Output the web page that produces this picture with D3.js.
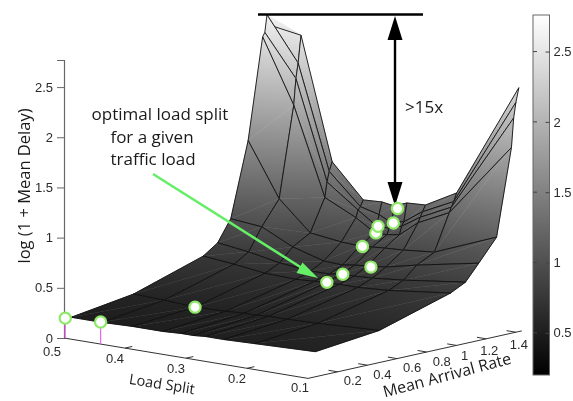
<!DOCTYPE html>
<html>
<head>
<meta charset="utf-8">
<script src="https://d3js.org/d3.v7.min.js"></script>
<style>
html, body { margin: 0; padding: 0; background: #fff; }
svg { display: block; filter: blur(0.4px); }
.tick_label { font-family: "Liberation Sans", sans-serif; font-size: 13px; fill: #2a2a2a; }
.note { font-family: "Open Sans", sans-serif; fill: #1a1a1a; }
</style>
</head>
<body>
<script>
// grid of the surface
const splits = [0.5, 0.45, 0.4, 0.35, 0.32, 0.3, 0.28, 0.25, 0.2, 0.1];
const rates = [0.05, 0.48, 0.96, 1.06, 1.15, 1.27, 1.37, 1.385, 1.4, 1.42];
// log(1 + delay), one row per rate, one column per split
const delay_005 = [0.19, 0.19, 0.2, 0.2, 0.21, 0.21, 0.22, 0.22, 0.23, 0.25];
const delay_048 = [0.28, 0.27, 0.25, 0.26, 0.27, 0.27, 0.28, 0.28, 0.29, 0.32];
const delay_096 = [0.5, 0.47, 0.43, 0.42, 0.43, 0.44, 0.44, 0.44, 0.46, 0.535];
const delay_106 = [0.6, 0.56, 0.5, 0.47, 0.47, 0.49, 0.49, 0.5, 0.53, 0.61];
const delay_115 = [0.81, 0.78, 0.63, 0.54, 0.53, 0.55, 0.56, 0.58, 0.65, 0.77];
const delay_127 = [1.55, 1.02, 0.73, 0.69, 0.68, 0.69, 0.7, 0.71, 0.74, 0.99];
const delay_137 = [2.55, 1.92, 1.05, 0.9, 0.78, 0.78, 0.8, 0.95, 1.1, 1.85];
const delay_1385 = [2.59, 2.18, 1.2, 0.97, 0.84, 0.84, 0.88, 1.0, 1.15, 2.14];
const delay_140 = [2.76, 2.33, 1.3, 1.0, 0.95, 0.89, 0.92, 1.05, 1.2, 2.29];
const delay_142 = [2.65, 2.6, 1.39, 1.06, 1.07, 1.05, 1.1, 1.11, 1.28, 2.43];
const delays = [delay_005, delay_048, delay_096, delay_106, delay_115, delay_127, delay_137, delay_1385, delay_140, delay_142];

// optimal load split per traffic load
const opt_split = [0.498, 0.44, 0.4, 0.3, 0.298, 0.274, 0.316, 0.318, 0.318, 0.297, 0.295];
const opt_rate = [0, 0, 0.48, 0.96, 1.06, 1.15, 1.27, 1.37, 1.385, 1.4, 1.42];
const opt_delay = [0.2, 0.22, 0.25, 0.44, 0.49, 0.556, 0.68, 0.78, 0.84, 0.89, 1.03];

const delay_ticks = [0, 0.5, 1, 1.5, 2, 2.5];
const split_ticks = [0.5, 0.4, 0.3, 0.2, 0.1];
const rate_ticks = [0.2, 0.4, 0.6, 0.8, 1, 1.2, 1.4];
const colorbar_ticks = [0.5, 1, 1.5, 2, 2.5];

const width = 573, height = 401;
const svg = d3.select('body').append('svg').attr('width', width).attr('height', height);
const defs = svg.append('defs');

// oblique projection of (split, rate, delay) onto the page
const split_x = d3.scaleLinear([0.5, 0.1], [64, 308]);
const split_y = d3.scaleLinear([0.5, 0.1], [338, 378.4]);
const rate_dx = d3.scaleLinear([0.5, 0.1], [145, 148.5]);
const rate_dy = d3.scaleLinear([0, 1], [0, -33]);
const delay_y = d3.scaleLinear([0, 2.77], [338, 60]);
const project = (s, r, z) => [
    split_x(s) + r * rate_dx(s),
    split_y(s) + rate_dy(r) + delay_y(z) - delay_y(0)
];

const z_lo = 0.2, z_hi = 2.77;
const surface_color = d3.scaleLinear([z_lo, z_hi], ['#1e1e1e', '#f2f2f2']);

let grad_id = 0;
function triangle_fill(a, b, c) {
    // plane z = gx * x + gy * y + k, gradient runs along (gx, gy)
    const [x1, y1, z1] = a, [x2, y2, z2] = b, [x3, y3, z3] = c;
    const det = (x2 - x1) * (y3 - y1) - (x3 - x1) * (y2 - y1);
    if (Math.abs(det) < 1e-6) return surface_color((z1 + z2 + z3) / 3);
    const gx = ((z2 - z1) * (y3 - y1) - (z3 - z1) * (y2 - y1)) / det;
    const gy = ((x2 - x1) * (z3 - z1) - (x3 - x1) * (z2 - z1)) / det;
    const g2 = gx * gx + gy * gy;
    if (g2 < 1e-9) return surface_color((z1 + z2 + z3) / 3);
    const id = 'tri' + (grad_id++);
    const grad = defs.append('linearGradient')
        .attr('id', id)
        .attr('gradientUnits', 'userSpaceOnUse')
        .attr('x1', x1 + (z_lo - z1) * gx / g2)
        .attr('y1', y1 + (z_lo - z1) * gy / g2)
        .attr('x2', x1 + (z_hi - z1) * gx / g2)
        .attr('y2', y1 + (z_hi - z1) * gy / g2);
    grad.append('stop').attr('offset', 0).attr('stop-color', surface_color(z_lo));
    grad.append('stop').attr('offset', 1).attr('stop-color', surface_color(z_hi));
    return 'url(#' + id + ')';
}

// surface, far cells first
const surface = svg.append('g').attr('class', 'surface');
const node = (i, j) => {
    const p = project(splits[j], rates[i], delays[i][j]);
    return [p[0], p[1], delays[i][j]];
};
const line_path = d3.line();
for (let i = rates.length - 2; i >= 0; i--) {
    for (let j = 0; j < splits.length - 1; j++) {
        const a = node(i, j), b = node(i, j + 1), c = node(i + 1, j + 1), d = node(i + 1, j);
        [[a, b, c], [a, c, d]].forEach(tri => {
            const fill = triangle_fill(tri[0], tri[1], tri[2]);
            surface.append('path')
                .attr('d', line_path(tri.map(p => [p[0], p[1]])) + 'Z')
                .attr('fill', fill)
                .attr('stroke', fill)
                .attr('stroke-width', 0.5);
        });
        surface.append('path')
            .attr('d', line_path([a, b, c, d].map(p => [p[0], p[1]])) + 'Z')
            .attr('fill', 'none')
            .attr('stroke', '#111')
            .attr('stroke-width', 0.9)
            .attr('stroke-linejoin', 'round');
    }
}

// delay axis
const axis_color = '#666';
const z_axis = svg.append('g')
    .attr('transform', 'translate(64,0)')
    .call(d3.axisLeft(delay_y).tickValues(delay_ticks).tickFormat(String).tickSize(7).tickPadding(4));
z_axis.select('.domain').attr('stroke', axis_color).attr('stroke-width', 1.2);
z_axis.selectAll('.tick line').attr('stroke', axis_color);
z_axis.selectAll('.tick text').attr('class', 'tick_label').style('font-size', '13px').attr('font-family', null);

// floor axes
const floor = svg.append('g');
floor.append('path')
    .attr('d', line_path([project(0.5, 0, 0), project(0.1, 0, 0), project(0.1, 1.44, 0)]))
    .attr('fill', 'none').attr('stroke', '#333').attr('stroke-width', 1);

split_ticks.forEach(s => {
    const p = project(s, 0, 0);
    if (s !== 0.5 && s !== 0.1) {
        floor.append('path')
            .attr('d', line_path([p, project(s, 0.05, 0)]))
            .attr('stroke', '#333').attr('fill', 'none');
    }
    const off = s === 0.5 ? [-12, 13] : s === 0.1 ? [-8, 9] : [-10, 10];
    floor.append('text').attr('class', 'tick_label')
        .attr('x', p[0] + off[0]).attr('y', p[1] + off[1])
        .attr('text-anchor', 'middle').attr('dy', '0.35em')
        .text(s);
});
rate_ticks.forEach(r => {
    const p = project(0.1, r, 0);
    floor.append('path')
        .attr('d', line_path([p, project(0.115, r, 0)]))
        .attr('stroke', '#333').attr('fill', 'none');
    const off = r < 1 ? [15, 9] : r === 1 ? [8, 10] : [3, 12];
    floor.append('text').attr('class', 'tick_label')
        .attr('x', p[0] + off[0]).attr('y', p[1] + off[1])
        .attr('text-anchor', 'middle').attr('dy', '0.35em')
        .text(r);
});

// axis titles
svg.append('text').attr('class', 'note')
    .attr('transform', 'translate(24,186) rotate(-90)')
    .attr('text-anchor', 'middle').attr('dy', '0.35em')
    .style('font-size', '16.5px').text('log (1 + Mean Delay)');
svg.append('text').attr('class', 'note')
    .attr('transform', 'translate(162,384) rotate(9)')
    .attr('text-anchor', 'middle').attr('dy', '0.35em')
    .style('font-size', '14.5px').text('Load Split');
svg.append('text').attr('class', 'note')
    .attr('transform', 'translate(447,375) rotate(-15)')
    .attr('text-anchor', 'middle').attr('dy', '0.35em')
    .style('font-size', '16px').text('Mean Arrival Rate');

// annotation text
[['optimal load split', 160, 120], ['for a given', 152, 143], ['traffic load', 153, 165]].forEach(t => {
    svg.append('text').attr('class', 'note')
        .attr('x', t[1]).attr('y', t[2]).attr('text-anchor', 'middle')
        .style('font-size', '17px').text(t[0]);
});
svg.append('text').attr('class', 'note')
    .attr('x', 405).attr('y', 113).style('font-size', '17px').text('>15x');

// black span arrow
svg.append('line').attr('x1', 258).attr('x2', 423).attr('y1', 14.5).attr('y2', 14.5)
    .attr('stroke', '#000').attr('stroke-width', 2.6);
svg.append('line').attr('x1', 395).attr('x2', 395).attr('y1', 30).attr('y2', 190)
    .attr('stroke', '#000').attr('stroke-width', 2.4);
svg.append('path').attr('d', 'M395,16L402.5,40L387.5,40Z').attr('fill', '#000');
svg.append('path').attr('d', 'M395,206L402.5,182L387.5,182Z').attr('fill', '#000');

// green arrow
const green = '#66ee66';
svg.append('line').attr('x1', 153).attr('y1', 174).attr('x2', 305).attr('y2', 270)
    .attr('stroke', green).attr('stroke-width', 2.6);
svg.append('path').attr('d', 'M318,278L296.5,273L302.5,262.5Z').attr('fill', green);

// optimal points with stems down to the floor
const opt_points = opt_split.map((s, k) => ({ s: s, r: opt_rate[k], z: opt_delay[k] }));
svg.append('g').selectAll('line').data(opt_points.slice(0, 2)).join('line')
    .attr('x1', d => project(d.s, d.r, d.z)[0])
    .attr('y1', d => project(d.s, d.r, d.z)[1])
    .attr('x2', d => project(d.s, d.r, 0)[0])
    .attr('y2', d => project(d.s, d.r, 0)[1])
    .attr('stroke', '#ee66ee').attr('stroke-width', 1.2);
svg.append('g').selectAll('circle').data(opt_points).join('circle')
    .attr('cx', d => project(d.s, d.r, d.z)[0])
    .attr('cy', d => project(d.s, d.r, d.z)[1])
    .attr('r', 5.6)
    .attr('fill', '#fff')
    .attr('stroke', '#8fe868')
    .attr('stroke-width', 2.2);

// colorbar
const bar_x = 533, bar_w = 16.5;
const bar_scale = d3.scaleLinear([0.2, 2.76], [375, 15]);
const bar_grad = defs.append('linearGradient').attr('id', 'bar_grad')
    .attr('x1', 0).attr('x2', 0).attr('y1', 1).attr('y2', 0);
bar_grad.append('stop').attr('offset', 0).attr('stop-color', '#000');
bar_grad.append('stop').attr('offset', 1).attr('stop-color', '#fff');
svg.append('rect').attr('x', bar_x).attr('y', 15).attr('width', bar_w).attr('height', 360)
    .attr('fill', 'url(#bar_grad)').attr('stroke', axis_color).attr('stroke-width', 1);
const bar_axis = svg.append('g')
    .attr('transform', 'translate(' + (bar_x + bar_w) + ',0)')
    .call(d3.axisRight(bar_scale).tickValues(colorbar_ticks).tickFormat(String).tickSize(-4).tickPadding(8));
bar_axis.select('.domain').remove();
bar_axis.selectAll('.tick line').attr('stroke', '#444');
bar_axis.selectAll('.tick text').attr('class', 'tick_label').attr('font-family', null).style('font-size', '13px').attr('x', 4);
svg.append('g').selectAll('line').data(colorbar_ticks).join('line')
    .attr('x1', bar_x).attr('x2', bar_x + 4)
    .attr('y1', d => bar_scale(d)).attr('y2', d => bar_scale(d))
    .attr('stroke', '#444');
</script>
</body>
</html>
